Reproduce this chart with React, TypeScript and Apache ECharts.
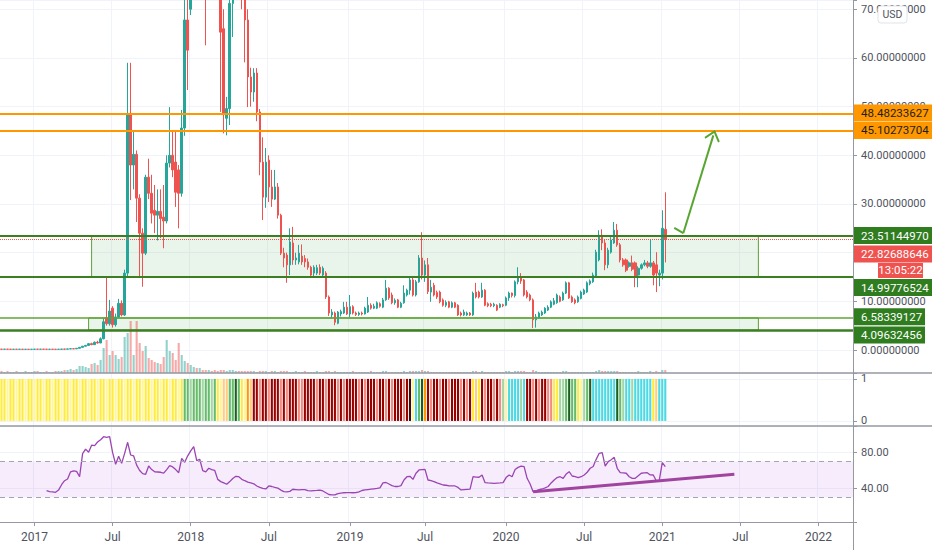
import React, { useEffect, useRef } from "react";
import * as echarts from "echarts";

// ---------- DATA ----------
const START_YEAR = 2016, START_MONTH = 9, START_DAY = 17; // first weekly bar (Mon 2016-10-17)
const WEEK_COUNT = 284; // category slots up to late March 2022

const TICK_LABELS: [string, string][] = [
  ["2017-01-02", "2017"], ["2017-07-03", "Jul"], ["2018-01-01", "2018"], ["2018-07-02", "Jul"],
  ["2019-01-07", "2019"], ["2019-07-01", "Jul"], ["2020-01-06", "2020"], ["2020-07-06", "Jul"],
  ["2021-01-04", "2021"], ["2021-07-05", "Jul"], ["2022-01-03", "2022"],
];

// weekly candles: [open, close, low, high]
const OHLC: number[][] = [
  [0.17,0.16,0.14,0.19],[0.16,0.17,0.15,0.19],[0.17,0.16,0.14,0.18],[0.16,0.15,0.13,0.17],[0.15,0.16,0.14,0.18],
  [0.16,0.15,0.13,0.17],[0.15,0.16,0.14,0.17],[0.16,0.14,0.13,0.17],[0.14,0.15,0.13,0.16],[0.15,0.14,0.12,0.16],
  [0.14,0.15,0.13,0.17],[0.15,0.17,0.14,0.19],[0.17,0.16,0.15,0.19],[0.16,0.17,0.15,0.18],[0.17,0.16,0.15,0.18],
  [0.16,0.15,0.14,0.17],[0.15,0.16,0.14,0.17],[0.16,0.15,0.14,0.17],[0.15,0.14,0.13,0.16],[0.14,0.16,0.13,0.17],
  [0.16,0.19,0.15,0.21],[0.19,0.18,0.17,0.22],[0.18,0.22,0.17,0.24],[0.22,0.26,0.21,0.29],[0.26,0.24,0.22,0.30],
  [0.24,0.36,0.23,0.40],[0.36,0.55,0.34,0.62],[0.55,0.78,0.50,0.85],[0.78,0.95,0.72,1.05],[0.95,1.30,0.90,1.45],
  [1.30,1.10,1.00,1.50],[1.10,1.60,1.05,1.75],[1.60,1.45,1.30,1.90],[1.45,2.30,1.40,2.60],[2.30,5.80,2.20,6.50],
  [6.60,5.40,5.00,15.0],[5.40,8.00,5.00,10.3],[8.60,5.20,4.60,9.00],[5.20,6.80,4.80,7.50],[6.80,9.60,6.60,10.5],
  [9.60,7.20,6.90,10.2],[7.20,15.8,7.00,16.5],[15.8,48.6,15.2,59.0],[48.6,38.0,30.8,59.0],[38.0,40.2,33.0,45.0],
  [40.2,31.2,26.3,41.0],[31.2,24.0,15.0,32.0],[24.0,19.9,13.0,25.0],[19.9,35.5,19.5,36.0],[35.5,32.2,31.0,39.3],
  [32.2,28.1,26.0,36.0],[28.7,27.7,24.0,33.9],[27.7,28.5,22.5,33.0],[28.5,27.0,23.0,33.0],[27.3,26.5,20.9,33.9],
  [26.5,38.4,26.0,40.0],[38.4,40.0,37.5,49.9],[40.0,37.0,35.5,45.2],[38.6,32.4,29.4,45.2],[37.0,32.2,25.0,38.0],
  [32.2,45.6,31.5,49.3],[45.6,67.8,44.0,75.0],[67.8,61.6,53.4,78.0],[70.0,98.0,68.8,108],[98,125,92,140],
  [125,118,100,162],[118,135,110,145],[135,120,105,140],[120,105,62.6,125],[105,128,98,140],
  [128,115,105,135],[115,95,88,120],[95,85,78,100],[85,65.3,48.9,88],[66,48.6,44.5,70],
  [47.6,49.6,44.1,52],[49.6,71.2,46.2,73],[71.2,88,64.3,92],[88,92,80,98],[92,80,75,96],
  [80,74,70,85],[74,67.8,59.1,78],[67.8,56.1,49.9,70],[56.1,53.0,50.0,58.0],[53.0,56.9,51.0,57.9],
  [56.9,48.9,47.0,57.9],[48.9,38.6,35.9,49.5],[38.6,31.4,26.7,43.7],[31.4,38.6,29.2,41.5],[39.0,33.5,30.4,40.0],
  [33.5,31.0,29.4,37.0],[31.0,33.5,30.8,37.0],[33.5,27.7,27.0,34.3],[27.7,19.9,19.5,28.0],[19.9,18.9,17.0,21.0],
  [19.5,17.5,13.8,20.0],[17.5,22.2,15.4,25.0],[22.0,18.5,17.5,25.3],[18.5,18.9,17.5,20.0],[18.1,19.9,17.6,21.6],
  [19.3,18.1,17.5,21.7],[18.8,18.1,17.0,19.5],[18.1,17.0,16.5,18.8],[17.0,15.4,15.0,17.3],[15.8,17.0,15.2,17.4],
  [15.8,16.9,15.4,17.5],[17.0,15.8,15.4,17.6],[15.4,16.8,15.0,17.2],[15.8,10.9,10.5,16.2],[10.9,7.6,7.0,11.2],
  [7.2,7.8,6.6,8.4],[7.6,5.7,5.1,7.9],[5.5,7.8,5.3,8.0],[7.4,7.9,6.9,8.3],[7.6,8.8,7.4,9.9],
  [8.8,7.4,7.2,9.9],[7.4,8.9,6.8,11.3],[8.9,7.6,7.3,9.2],[7.6,7.3,7.0,7.9],[7.3,7.6,7.0,7.9],
  [7.6,7.4,7.1,7.9],[7.4,8.6,7.3,8.9],[7.8,9.2,7.6,10.9],[9.2,8.6,8.3,9.6],[8.6,9.0,8.4,9.5],
  [8.6,9.7,8.4,10.0],[9.5,9.0,8.7,9.8],[8.8,10.3,8.6,10.7],[10.3,12.7,10.1,14.4],[12.7,10.7,10.3,12.9],
  [11.3,9.7,9.4,11.8],[9.7,10.2,9.3,10.6],[10.3,8.8,8.6,10.5],[8.8,9.6,8.6,9.9],[9.7,11.7,9.5,13.3],
  [11.3,12.3,11.0,12.6],[12.3,14.4,11.4,14.8],[14.4,11.3,11.0,15.0],[11.3,14.0,11.0,14.4],[14.0,18.9,13.8,19.5],
  [18.9,15.4,14.5,24.2],[15.4,17.5,14.0,18.4],[17.5,12.0,11.5,18.9],[11.9,12.9,9.9,14.4],[13.3,11.3,11.0,13.8],
  [11.8,10.9,10.5,12.2],[11.9,9.9,9.6,12.2],[10.3,9.2,8.9,10.6],[9.2,9.8,8.8,10.2],[9.9,8.8,8.6,10.1],
  [8.8,9.7,8.6,10.0],[9.7,8.8,8.6,9.9],[9.2,7.2,7.0,9.4],[7.6,7.2,6.9,7.9],[7.2,7.8,7.0,8.3],
  [7.2,7.6,7.0,7.9],[7.6,7.2,7.0,7.8],[7.2,11.7,7.0,12.0],[11.9,10.9,10.6,13.8],[11.9,10.9,10.6,12.2],
  [10.9,12.3,10.7,13.8],[12.3,9.2,9.0,12.5],[9.5,9.1,8.8,9.8],[9.4,9.1,8.8,9.7],[9.1,9.4,8.8,9.7],
  [9.2,8.2,8.0,9.4],[8.8,9.4,8.6,9.6],[9.3,9.1,8.8,9.5],[9.2,10.7,9.0,11.0],[10.7,11.7,10.1,12.0],
  [11.7,11.2,10.8,11.8],[11.2,14.0,10.8,14.3],[14.0,14.8,13.5,17.0],[14.8,14.2,13.6,15.8],[14.4,11.3,11.0,14.6],
  [11.9,10.9,10.6,12.3],[11.3,10.3,10.0,11.6],[10.3,6.2,4.5,10.6],[6.2,6.8,4.6,7.4],[6.6,7.6,6.4,7.9],
  [7.2,7.8,7.0,8.1],[7.6,8.6,7.4,8.8],[8.2,8.8,8.0,9.2],[8.8,9.9,8.6,10.2],[9.4,10.1,9.2,10.7],
  [9.7,11.3,9.5,11.6],[10.9,10.0,9.8,11.2],[10.3,11.7,10.1,12.0],[11.7,13.8,11.5,14.1],[13.8,10.7,10.5,14.0],
  [10.9,9.9,9.7,11.2],[10.3,9.7,9.4,10.6],[9.9,10.9,9.7,11.2],[10.6,11.9,10.4,12.2],[11.5,12.3,11.3,12.6],
  [11.9,13.8,11.7,14.1],[13.6,14.2,13.3,14.5],[14.0,15.4,13.8,15.9],[15.0,20.1,14.8,20.6],[18.5,23.6,18.2,24.6],
  [23.6,22.0,20.5,24.8],[22.0,17.5,16.4,22.6],[17.5,20.5,16.8,21.0],[20.1,22.6,19.8,23.2],[22.0,24.6,21.8,26.3],
  [24.6,21.6,21.2,25.9],[21.6,18.5,18.0,22.0],[18.5,17.5,17.1,18.9],[18.5,16.4,16.0,18.8],[17.2,17.9,16.9,18.2],
  [17.9,16.6,16.2,19.4],[17.9,15.0,12.9,18.2],[15.4,16.8,12.9,17.2],[16.8,17.5,16.5,17.8],[17.5,17.9,17.2,18.5],
  [17.9,17.2,16.8,18.3],[17.2,17.9,16.9,22.6],[17.9,15.4,13.3,18.3],[17.5,15.8,11.9,20.1],[15.4,15.8,13.1,16.5],
  [15.8,25.0,14.5,28.7],[24.8,22.82688646,18.0,32.4],
];

const VOLUME: number[] = [
  2,1,2,1,1,2,1,1,2,1, 1,2,2,1,1,2,1,1,2,2, 2,3,3,4,3,4,7,7,6,5, 9,10,8,13,25,33,18,22,18,14,
  16,36,40,52,18,52,30,22,27,15, 13,11,10,9,16,33,22,20,13,30, 18,12,10,8,6,5,5,3,3,3, 2,3,2,3,3,2,3,3,2,2,
  2,2,2,2,2,1,2,2,2,1, 2,2,1,2,2,2,1,1,2,1, 1,2,1,1,1,2,1,1,2,2, 1,2,1,1,1,1,1,2,1,1,
  1,1,1,2,1,1,1,2,2,1, 1,1,1,1,2,1,2,2,2,2, 3,2,2,1,1,1,1,1,1,1, 1,1,1,1,1,1,1,2,2,1,
  2,1,1,1,1,1,1,1,2,2, 1,2,2,2,2,1,1,3,2,1, 1,1,1,1,1,1,1,2,2,1, 1,1,1,1,1,1,1,1,2,3,
  2,2,2,2,2,2,1,1,1,1, 1,1,2,1,1,1,2,1,2,1, 3,3,
];

// indicator column colour codes, one per week
const SIGNAL_CODES = [
  "YYyYYyYYyYYyYYy", "YYyYYyYYyYYyYYy", "YYyYYyYYyYYyYYy", "YYyYYyYYyYYyYYy", "Y",
  "GGgGGGgGGgG", "Yyoo", "GGDG", "YyOo",
  "RRrRRrRRRrRrRRRrrRRRRrRRrRRRrRrRRRRrRrRRRrRRrRrRRRrR",
  "KyCGDO", "RrRRrRRrRRRrRrR", "YoY", "RrRRrRr", "gyCCCCgC", "RRrRrRRrr",
  "YYg", "gGDGG", "Yy", "gGD", "CCCCCCCC", "DGg", "CCgCCCCCC", "Yo", "CCC",
].join("");

const SIGNAL_COLORS: Record<string, string> = {
  Y: "#ffeb3b", y: "#fff59d", G: "#66bb6a", g: "#a5d6a7", D: "#1b5e20",
  O: "#ff9800", o: "#ffcc80", R: "#990000", r: "#f28b82", C: "#4dd9e3", K: "#3e0a0a",
};

const RSI: (number | null)[] = [
  null,null,null,null,null,null,null,null,null,null,null,null,null,null,null,
  37.3,36.2,36.0,35.5,38,44,48.5,50.5,58.5,59.5,59,53,79,84,80.5,
  88.5,88,92,94.5,98,97.3,98,80,67,76,68,79.3,91.7,77.4,76.3,66,60,56.5,55.7,65,
  61,58.5,58.3,58,57,61,65.4,64,61,57.5,73.7,69.2,76.5,82,86.7,71,72.6,59.8,58.5,62.5,
  61,60,50,47.5,46,44.5,47.5,51,53.5,53,50.1,48.5,47,46,45,42.6,41,40,39.2,42.6,
  42,41,40.2,38,36.2,36,36.5,38.9,38.5,38.1,38.6,38.5,37.3,37,37.3,37.6,38,37,35,33,
  32.5,32.5,34,34.5,35,35.1,35.2,35,35.1,36,37.5,38.2,38.6,39,39.4,39.8,40.5,46,46.5,44.8,
  43,42,42,43,49.3,53,53.5,50,56.9,60.6,61,61.3,49.3,48.5,47.4,46,45,43.7,43.4,42.8,
  42.6,42.6,41,38.1,38.4,38.7,39,53,52.5,52.4,54.9,46.3,46,45.8,45.6,45.8,46,46.3,52,54.9,
  53,61,63.5,65,64.3,51.2,44.8,36.2,37.2,38.5,39.2,40.5,42,46,49.3,52,53,51.2,56,58.7,
  53.8,53,52,53,54.9,58,62.5,64.5,72.5,79.3,80,65,70,72,74.8,62.5,57.5,57.2,56.9,53,
  51.2,51.2,54,56.9,57.2,57.5,55,54.9,48.5,49,68.8,64.3,
];

// horizontal levels drawn on the price pane
const RESISTANCE_LEVELS = [48.48233627, 45.10273704];
const ZONE_UPPER = [23.5114497, 14.99776524];
const ZONE_LOWER = [6.58339127, 4.09632456];
const LAST_PRICE = 22.82688646;
const COUNTDOWN = "13:05:22";
// price-axis values whose tick label sits fully under a price tag
const HIDDEN_AXIS_VALUES = [20];
// zone boxes: [startWeek, endWeek]
const ZONE_UPPER_SPAN = [30, 252];
const ZONE_LOWER_SPAN = [29, 252];
// projection arrow: [week, price]
const ARROW_POINTS: [number, number][] = [[224, 25.1], [227, 24.0], [237, 44.1]];
// RSI trendline: [week, rsi]
const RSI_TREND: [number, number][] = [[177, 36.2], [244, 55.7]];
const RSI_BAND = [30, 70];

// ---------- helpers ----------
function buildCategories(): string[] {
  const out: string[] = [];
  for (let k = 0; k < WEEK_COUNT; k++) {
    out.push(new Date(Date.UTC(START_YEAR, START_MONTH, START_DAY + 7 * k)).toISOString().slice(0, 10));
  }
  return out;
}

const FONT = "Roboto, 'DejaVu Sans', sans-serif";
const UP = "#26a69a";
const DOWN = "#ef5350";
const AXIS_GRAY = "#9598a1";
const GRID_LINE = "#f0f3fa";
const ORANGE = "#ff9800";
const GREEN_LINE = "#3c7f22";
const GREEN_LABEL = "#2f7d1f";
const ARROW_GREEN = "#58a532";

export default function App() {
  const ref = useRef<HTMLDivElement>(null);

  useEffect(() => {
    document.body.style.margin = "0";
    const el = ref.current!;
    const chart = echarts.init(el, undefined, { renderer: "svg" });

    const cats = buildCategories();
    const tickMap: Record<string, string> = {};
    TICK_LABELS.forEach(([d, l]) => (tickMap[d] = l));
    const isTick = (_i: number, v: string) => tickMap[v] !== undefined;

    const volData = VOLUME.map((v, i) => ({
      value: v,
      itemStyle: { color: OHLC[i][1] >= OHLC[i][0] ? "rgba(38,166,154,0.5)" : "rgba(239,83,80,0.5)" },
    }));
    const sigData = SIGNAL_CODES.split("").map((c) => ({ value: 1, itemStyle: { color: SIGNAL_COLORS[c] } }));

    const baseX = (gridIndex: number, showLabels: boolean) => ({
      type: "category",
      gridIndex,
      data: cats,
      boundaryGap: true,
      axisLine: { show: showLabels, lineStyle: { color: AXIS_GRAY, width: 1 } },
      axisTick: showLabels
        ? { show: true, interval: isTick, alignWithLabel: true, length: 4, lineStyle: { color: AXIS_GRAY } }
        : { show: false },
      axisLabel: showLabels
        ? { show: true, interval: isTick, formatter: (v: string) => tickMap[v] || "", color: "#50535e", fontSize: 12, fontFamily: FONT, margin: 9 }
        : { show: false },
      splitLine: { show: true, interval: isTick, lineStyle: { color: GRID_LINE, width: 1 } },
    });

    const hLine = (v: number, color: string, width: number, type: string = "solid") => ({
      yAxis: v,
      lineStyle: { color, width, type },
    });

    const chevron = "path://M8,0L16,9L14.6,10.3L8,2.9L1.4,10.3L0,9Z";

    const option: any = {
      animation: false,
      backgroundColor: "#ffffff",
      textStyle: { fontFamily: FONT },
      grid: [
        { left: 0, top: 0, width: 853, height: 373 },
        { left: 0, top: 373, width: 853, height: 53 },
        { left: 0, top: 426, width: 853, height: 96 },
      ],
      xAxis: [baseX(0, false), baseX(1, false), baseX(2, true)],
      yAxis: [
        {
          type: "value", gridIndex: 0, position: "right", min: -4.72, max: 71.9,
          splitNumber: 8, minInterval: 10, maxInterval: 10,
          axisLine: { show: true, lineStyle: { color: AXIS_GRAY } },
          axisTick: { show: true, length: 4, lineStyle: { color: AXIS_GRAY } },
          axisLabel: {
            color: "#50535e", fontSize: 11, fontFamily: FONT, margin: 8,
            formatter: (v: number) =>
              Math.abs(v % 10) < 1e-6 && !HIDDEN_AXIS_VALUES.some((h) => Math.abs(h - v) < 1e-6) ? v.toFixed(8) : "",
          },
          splitLine: { show: true, lineStyle: { color: GRID_LINE } },
        },
        { type: "value", gridIndex: 0, min: 0, max: 373, show: false },
        {
          type: "value", gridIndex: 1, position: "right", min: -0.12, max: 1.14,
          splitNumber: 1, minInterval: 1, maxInterval: 1,
          axisLine: { show: true, lineStyle: { color: AXIS_GRAY } },
          axisTick: { show: true, length: 4, lineStyle: { color: AXIS_GRAY } },
          axisLabel: {
            color: "#50535e", fontSize: 11, fontFamily: FONT, margin: 8,
            formatter: (v: number) => (Math.abs(v) < 1e-6 ? "0" : Math.abs(v - 1) < 1e-6 ? "1" : ""),
          },
          splitLine: { show: true, lineStyle: { color: GRID_LINE } },
        },
        {
          type: "value", gridIndex: 2, position: "right", min: 2.1, max: 110,
          splitNumber: 3, minInterval: 40, maxInterval: 40,
          axisLine: { show: true, lineStyle: { color: AXIS_GRAY } },
          axisTick: { show: true, length: 4, lineStyle: { color: AXIS_GRAY } },
          axisLabel: {
            color: "#50535e", fontSize: 11, fontFamily: FONT, margin: 8,
            formatter: (v: number) => (Math.abs(v % 40) < 1e-6 ? v.toFixed(2) : ""),
          },
          splitLine: { show: true, lineStyle: { color: GRID_LINE } },
        },
      ],
      series: [
        {
          name: "Volume", type: "bar", xAxisIndex: 0, yAxisIndex: 1, data: volData,
          barWidth: "70%", z: 1, silent: true,
        },
        {
          name: "Price", type: "candlestick", xAxisIndex: 0, yAxisIndex: 0, data: OHLC,
          barWidth: "68%", z: 3, clip: true,
          itemStyle: { color: UP, color0: DOWN, borderColor: UP, borderColor0: DOWN, borderWidth: 1 },
          markArea: {
            silent: true,
            itemStyle: { color: "rgba(76,175,80,0.12)", borderColor: "#5e9e3c", borderWidth: 1 },
            data: [
              [{ xAxis: cats[ZONE_UPPER_SPAN[0]], yAxis: ZONE_UPPER[0] }, { xAxis: cats[ZONE_UPPER_SPAN[1]], yAxis: ZONE_UPPER[1] }],
              [{ xAxis: cats[ZONE_LOWER_SPAN[0]], yAxis: ZONE_LOWER[0] }, { xAxis: cats[ZONE_LOWER_SPAN[1]], yAxis: ZONE_LOWER[1] }],
            ],
          },
          markLine: {
            silent: true,
            symbol: ["none", "none"],
            label: { show: false },
            lineStyle: { type: "solid" },
            data: [
              hLine(RESISTANCE_LEVELS[0], ORANGE, 2),
              hLine(RESISTANCE_LEVELS[1], ORANGE, 2),
              hLine(ZONE_UPPER[0], GREEN_LINE, 2),
              hLine(ZONE_UPPER[1], GREEN_LINE, 2),
              hLine(ZONE_LOWER[0], "#5fa534", 1.5),
              hLine(ZONE_LOWER[1], GREEN_LINE, 2.5),
              hLine(LAST_PRICE, DOWN, 1, "dotted"),
              [
                { coord: [cats[ARROW_POINTS[0][0]], ARROW_POINTS[0][1]], symbol: "none", lineStyle: { color: ARROW_GREEN, width: 2, type: "solid" } },
                { coord: [cats[ARROW_POINTS[1][0]], ARROW_POINTS[1][1]], symbol: "none", lineStyle: { color: ARROW_GREEN, width: 2, type: "solid" } },
              ],
              [
                { coord: [cats[ARROW_POINTS[1][0]], ARROW_POINTS[1][1]], symbol: "none", lineStyle: { color: ARROW_GREEN, width: 2, type: "solid" } },
                {
                  coord: [cats[ARROW_POINTS[2][0]], ARROW_POINTS[2][1]], symbol: chevron, symbolSize: [16, 11],
                  itemStyle: { color: ARROW_GREEN }, lineStyle: { color: ARROW_GREEN, width: 2, type: "solid" },
                },
              ],
            ],
          },
        },
        {
          name: "Signal", type: "bar", xAxisIndex: 1, yAxisIndex: 2, data: sigData,
          barWidth: "70%", silent: true,
        },
        {
          name: "RSI", type: "line", xAxisIndex: 2, yAxisIndex: 3, data: RSI,
          showSymbol: false, connectNulls: false, z: 3,
          lineStyle: { color: "#9b45b3", width: 1.3 },
          markArea: {
            silent: true,
            itemStyle: { color: "rgba(170,80,230,0.11)" },
            data: [[{ yAxis: RSI_BAND[0] }, { yAxis: RSI_BAND[1] }]],
          },
          markLine: {
            silent: true,
            symbol: ["none", "none"],
            label: { show: false },
            data: [
              { yAxis: RSI_BAND[0], lineStyle: { color: "#a3a6ae", width: 1, type: [5, 4] } },
              { yAxis: RSI_BAND[1], lineStyle: { color: "#a3a6ae", width: 1, type: [5, 4] } },
              [
                { coord: [cats[RSI_TREND[0][0]], RSI_TREND[0][1]], lineStyle: { color: "#a0449f", width: 3, type: "solid" } },
                { coord: [cats[RSI_TREND[1][0]], RSI_TREND[1][1]], lineStyle: { color: "#a0449f", width: 3, type: "solid" } },
              ],
            ],
          },
        },
      ],
    };

    chart.setOption(option);

    // right-side price labels positioned through the price axis
    const yPx = (v: number) => chart.convertToPixel({ yAxisIndex: 0 }, v) as number;
    const labels: { v: number; bg: string; fg: string; dy: number; w: number }[] = [
      { v: RESISTANCE_LEVELS[0], bg: ORANGE, fg: "#1e1e1e", dy: -1, w: 78 },
      { v: RESISTANCE_LEVELS[1], bg: ORANGE, fg: "#1e1e1e", dy: 0, w: 78 },
      { v: ZONE_UPPER[0], bg: GREEN_LABEL, fg: "#ffffff", dy: 0, w: 78 },
      { v: LAST_PRICE, bg: DOWN, fg: "#ffffff", dy: 15, w: 78 },
      { v: ZONE_UPPER[1], bg: GREEN_LABEL, fg: "#ffffff", dy: 10.5, w: 78 },
      { v: ZONE_LOWER[0], bg: GREEN_LABEL, fg: "#ffffff", dy: -1.3, w: 71 },
      { v: ZONE_LOWER[1], bg: GREEN_LABEL, fg: "#ffffff", dy: 5, w: 71 },
    ];
    const graphic: any[] = [
      { type: "line", shape: { x1: 0, y1: 373, x2: 932, y2: 373 }, style: { stroke: AXIS_GRAY, lineWidth: 1.5 }, z: 50 },
      { type: "line", shape: { x1: 0, y1: 426, x2: 932, y2: 426 }, style: { stroke: AXIS_GRAY, lineWidth: 1.5 }, z: 50 },
      { type: "line", shape: { x1: 853.5, y1: 0, x2: 853.5, y2: 550 }, style: { stroke: AXIS_GRAY, lineWidth: 1 }, z: 50 },
    ];
    labels.forEach((l) => {
      const cy = yPx(l.v) + l.dy;
      graphic.push({ type: "rect", shape: { x: 854, y: cy - 8.5, width: l.w, height: 17 }, style: { fill: l.bg }, z: 60 });
      graphic.push({
        type: "text", x: 861, y: cy, z: 61,
        style: { text: l.v.toFixed(8), fill: l.fg, fontSize: 11.5, fontFamily: FONT, verticalAlign: "middle", align: "left" },
      });
    });
    const cdY = yPx(LAST_PRICE) + 31.5;
    graphic.push({ type: "rect", shape: { x: 878, y: cdY - 7.5, width: 45, height: 15 }, style: { fill: DOWN }, z: 60 });
    graphic.push({
      type: "text", x: 900.5, y: cdY, z: 61,
      style: { text: COUNTDOWN, fill: "#ffffff", fontSize: 11.5, fontFamily: FONT, verticalAlign: "middle", align: "center" },
    });
    graphic.push({
      type: "rect", shape: { x: 878, y: 6, width: 29, height: 17, r: 3 },
      style: { fill: "#ffffff", stroke: "#e0e3eb", lineWidth: 1 }, z: 70,
    });
    graphic.push({
      type: "text", x: 892.5, y: 14.5, z: 71,
      style: { text: "USD", fill: "#50535e", fontSize: 10.5, fontFamily: FONT, verticalAlign: "middle", align: "center" },
    });
    chart.setOption({ graphic });

    return () => chart.dispose();
  }, []);

  return <div ref={ref} style={{ width: 932, height: 550 }} />;
}
